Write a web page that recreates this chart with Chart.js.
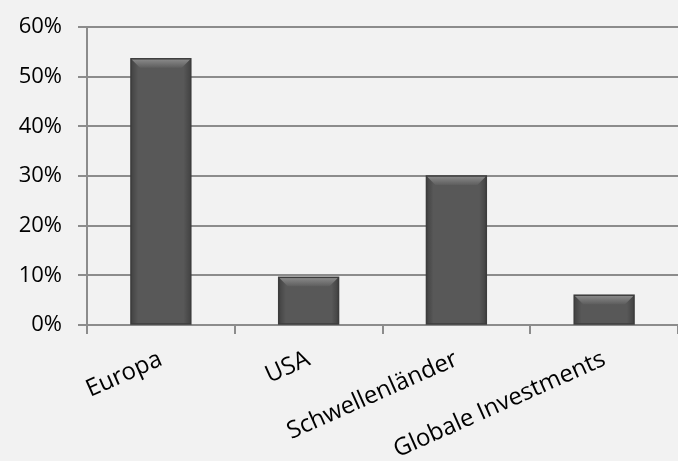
<!DOCTYPE html>
<html>
<head>
<meta charset="utf-8">
<script src="https://cdn.jsdelivr.net/npm/chart.js@4"></script>
<style>
    html, body { margin: 0; padding: 0; background: #f2f2f2; }
    #wrap { width: 678px; height: 461px; }
</style>
</head>
<body>
<div id="wrap"><canvas id="chart"></canvas></div>
<script>
var categories = ['Europa', 'USA', 'Schwellenländer', 'Globale Investments'];
var shares = [53.6, 9.6, 30, 6];
var yTicks = [0, 10, 20, 30, 40, 50, 60];

/* bevel on top of the bars */
var bevel = {
    id: 'bevel',
    afterDatasetsDraw: function (chart) {
        var ctx = chart.ctx;
        chart.getDatasetMeta(0).data.forEach(function (bar) {
            var w = bar.width, l = bar.x - w / 2, r = bar.x + w / 2, t = bar.y, b = bar.base;
            var d = Math.min(9, (b - t) / 2);
            ctx.save();
            // side shading
            var side = ctx.createLinearGradient(l, 0, r, 0);
            side.addColorStop(0, 'rgba(0,0,0,0.25)');
            side.addColorStop(0.12, 'rgba(0,0,0,0)');
            side.addColorStop(0.88, 'rgba(0,0,0,0)');
            side.addColorStop(1, 'rgba(0,0,0,0.25)');
            ctx.fillStyle = side;
            ctx.fillRect(l, t, w, b - t);
            // top bevel
            var g = ctx.createLinearGradient(0, t, 0, t + d);
            g.addColorStop(0, '#8c8c8c');
            g.addColorStop(1, '#5e5e5e');
            ctx.fillStyle = g;
            ctx.beginPath();
            ctx.moveTo(l, t);
            ctx.lineTo(r, t);
            ctx.lineTo(r - d, t + d);
            ctx.lineTo(l + d, t + d);
            ctx.closePath();
            ctx.fill();
            ctx.strokeStyle = '#3c3c3c';
            ctx.lineWidth = 1.5;
            ctx.strokeRect(l, t, w, b - t);
            ctx.restore();
        });
    }
};

new Chart(document.getElementById('chart').getContext('2d'), {
    type: 'bar',
    data: {
        labels: categories,
        datasets: [{
            data: shares,
            backgroundColor: '#585858',
            borderWidth: 0,
            barPercentage: 0.81,
            categoryPercentage: 0.5
        }]
    },
    options: {
        responsive: true,
        maintainAspectRatio: false,
        animation: false,
        layout: { padding: { top: 13, right: 0, left: 0, bottom: 0 } },
        plugins: { legend: { display: false }, tooltip: { enabled: false } },
        scales: {
            y: {
                min: 0,
                max: 60,
                afterFit: function (axis) { axis.width = 87; },
                afterBuildTicks: function (axis) {
                    axis.ticks = yTicks.map(function (v) { return { value: v }; });
                },
                ticks: {
                    color: '#000',
                    font: { family: 'Open Sans', size: 22, lineHeight: 1 },
                    padding: 16,
                    callback: function (v) { return v + '%'; }
                },
                grid: { color: '#8c8c8c', lineWidth: 2, tickLength: 9 },
                border: { color: '#8c8c8c', width: 2 }
            },
            x: {
                afterFit: function (axis) { axis.height = 136; },
                ticks: {
                    color: '#000',
                    font: { family: 'Open Sans', size: 24 },
                    minRotation: 24,
                    maxRotation: 24,
                    padding: 11
                },
                grid: { drawOnChartArea: false, color: '#8c8c8c', lineWidth: 2, tickLength: 9 },
                border: { color: '#8c8c8c', width: 2 }
            }
        }
    },
    plugins: [bevel]
});
</script>
</body>
</html>
